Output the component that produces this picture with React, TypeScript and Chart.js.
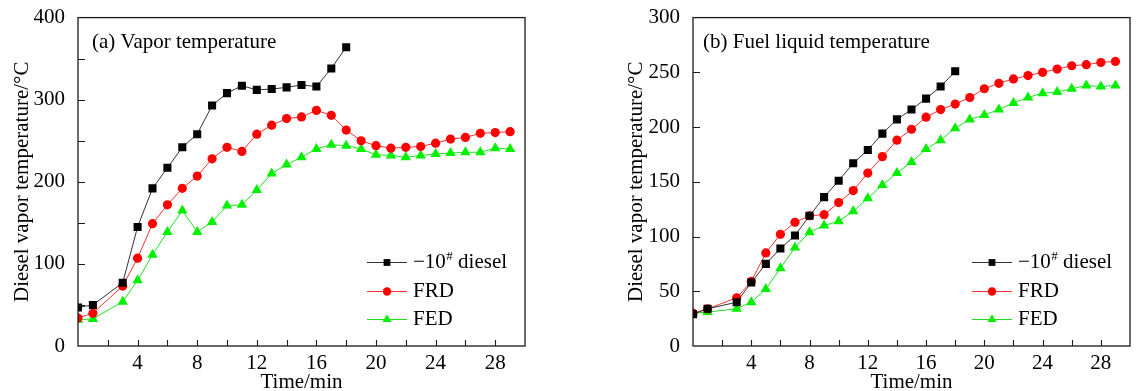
import React, { useEffect, useRef } from 'react';
import { Chart, registerables } from 'chart.js';

Chart.register(...registerables);

// ---- data ----
const timeMin = [0, 1, 3, 4, 5, 6, 7, 8, 9, 10, 11, 12, 13, 14, 15, 16, 17, 18, 19, 20, 21, 22, 23, 24, 25, 26, 27, 28, 29];

const seriesNames = ['\u221210# diesel', 'FRD', 'FED'];

// (a) Vapor temperature
const vaporDiesel = [47, 50, 77, 145, 192, 217, 242, 258, 293, 308, 317, 312, 313, 315, 318, 316, 338, 364];
const vaporFRD = [34, 40, 73, 107, 149, 172, 192, 207, 228, 242, 237, 258, 269, 277, 279, 287, 281, 263, 250, 244, 241, 242, 243, 247, 252, 254, 259, 260, 261];
const vaporFED = [32, 33, 54, 80, 111, 139, 165, 139, 151, 171, 172, 190, 210, 221, 230, 240, 245, 244, 240, 233, 232, 230, 232, 234, 235, 236, 236, 241, 240];

// (b) Fuel liquid temperature
const liquidDiesel = [29, 34, 40, 58, 75, 89, 101, 119, 136, 151, 167, 179, 194, 207, 216, 226, 237, 251];
const liquidFRD = [30, 34, 44, 59, 85, 102, 113, 119, 120, 131, 142, 158, 173, 188, 198, 209, 216, 221, 227, 235, 240, 244, 247, 250, 253, 256, 257, 259, 260];
const liquidFED = [30, 31, 34, 40, 52, 71, 90, 104, 110, 114, 123, 135, 147, 158, 168, 180, 188, 199, 207, 211, 216, 222, 227, 231, 232, 235, 238, 237, 238];

const xTickLabels = [4, 8, 12, 16, 20, 24, 28];

const FONT = '"Liberation Serif", "Times New Roman", serif';
const COLORS = ['#000000', '#ff0000', '#00f000'];
const LINE_COLORS = ['#333333', '#ff3030', '#20e020'];
const STYLES = ['rect', 'circle', 'triangle'];
const RADII = [5.7, 4.6, 6];

function toPoints(vals: number[]) {
  return vals.map((v, i) => ({ x: timeMin[i], y: v }));
}

function drawMarker(ctx: CanvasRenderingContext2D, style: string, x: number, y: number, r: number) {
  ctx.beginPath();
  if (style === 'rect') {
    const s = Math.SQRT1_2 * r;
    ctx.rect(x - s, y - s, 2 * s, 2 * s);
  } else if (style === 'circle') {
    ctx.arc(x, y, r, 0, Math.PI * 2);
  } else {
    let rad = 0;
    ctx.moveTo(x + Math.sin(rad) * r, y - Math.cos(rad) * r);
    rad += (2 * Math.PI) / 3;
    ctx.lineTo(x + Math.sin(rad) * r, y - Math.cos(rad) * r);
    rad += (2 * Math.PI) / 3;
    ctx.lineTo(x + Math.sin(rad) * r, y - Math.cos(rad) * r);
    ctx.closePath();
  }
  ctx.fill();
}

const framePlugin = {
  id: 'frameTicks',
  afterDraw(chart: any, _args: any, opts: any) {
    const { ctx, chartArea } = chart;
    const { left, right, top, bottom } = chartArea;
    const xs = chart.scales.x;
    const ys = chart.scales.y;
    ctx.save();
    ctx.strokeStyle = '#1a1a1a';
    ctx.lineWidth = 1.3;
    ctx.strokeRect(left, top, right - left, bottom - top);
    ctx.lineWidth = 1.1;
    ctx.beginPath();
    xs.ticks.forEach((t: any) => {
      const px = Math.round(xs.getPixelForValue(t.value)) + 0.5;
      if (px <= left + 2 || px >= right - 2) return;
      ctx.moveTo(px, bottom);
      ctx.lineTo(px, bottom - 6);
    });
    ys.ticks.forEach((t: any) => {
      const py = Math.round(ys.getPixelForValue(t.value)) + 0.5;
      if (py <= top + 2 || py >= bottom - 2) return;
      ctx.moveTo(left, py);
      ctx.lineTo(left + 7, py);
    });
    ctx.stroke();

    // panel title
    ctx.fillStyle = '#000';
    ctx.font = '21px ' + FONT;
    ctx.textBaseline = 'middle';
    ctx.textAlign = 'left';
    ctx.fillText(opts.title, left + opts.titleDx, top + 25);

    // legend
    chart.data.datasets.forEach((ds: any, i: number) => {
      const ry = Math.round(bottom - 84 + i * 28.5) + 0.5;
      const lx = right - 158;
      ctx.strokeStyle = ds.borderColor;
      ctx.lineWidth = 1;
      ctx.beginPath();
      ctx.moveTo(lx, ry);
      ctx.lineTo(lx + 40, ry);
      ctx.stroke();
      ctx.fillStyle = ds.pointBackgroundColor;
      const lr = i === 0 ? 4.8 : i === 1 ? 4.2 : 5.2;
      drawMarker(ctx, ds.pointStyle, lx + 20, ry, lr);
      ctx.fillStyle = '#000';
      let tx = lx + 46;
      const parts = String(ds.label).split('#');
      ctx.font = '21px ' + FONT;
      ctx.fillText(parts[0], tx, ry);
      tx += ctx.measureText(parts[0]).width;
      if (parts.length > 1) {
        ctx.font = '13px ' + FONT;
        ctx.fillText('#', tx + 0.5, ry - 6);
        tx += ctx.measureText('#').width + 0.5;
        ctx.font = '21px ' + FONT;
        ctx.fillText(parts[1], tx, ry);
      }
    });
    ctx.restore();
  },
};

type PanelProps = {
  left: number;
  width: number;
  yAxisWidth: number;
  padRight: number;
  yMax: number;
  yLabelStep: number;
  title: string;
  titleDx: number;
  series: number[][];
};

function Panel(p: PanelProps) {
  const ref = useRef<HTMLCanvasElement | null>(null);
  useEffect(() => {
    if (!ref.current) return;
    const font = { family: FONT, size: 21 };
    const chart = new Chart(ref.current, {
      type: 'line',
      data: {
        datasets: p.series.map((vals, i) => ({
          label: seriesNames[i],
          data: toPoints(vals),
          borderColor: LINE_COLORS[i],
          backgroundColor: COLORS[i],
          borderWidth: 1,
          pointStyle: STYLES[i] as any,
          pointRadius: RADII[i],
          pointBorderWidth: 0,
          pointBackgroundColor: COLORS[i],
          tension: 0,
        })),
      },
      options: {
        animation: false,
        responsive: false,
        maintainAspectRatio: false,
        layout: { padding: { top: 15, right: p.padRight, left: 0, bottom: 0 } },
        plugins: {
          legend: { display: false },
          tooltip: { enabled: false },
          frameTicks: { title: p.title, titleDx: p.titleDx },
        } as any,
        scales: {
          x: {
            type: 'linear',
            min: 0,
            max: 30,
            afterFit: (s: any) => {
              s.height = 45;
            },
            grid: { display: false },
            border: { display: false },
            ticks: {
              stepSize: 2,
              autoSkip: false,
              maxRotation: 0,
              padding: -3,
              color: '#000',
              font,
              callback: (v: any) => (xTickLabels.includes(Number(v)) ? String(v) : ''),
            },
            title: {
              display: true,
              text: 'Time/min',
              color: '#000',
              font: { family: FONT, size: 21, lineHeight: 0.8 },
              padding: 0,
            },
          },
          y: {
            type: 'linear',
            min: 0,
            max: p.yMax,
            afterFit: (s: any) => {
              s.width = p.yAxisWidth;
            },
            grid: { display: false },
            border: { display: false },
            ticks: {
              stepSize: 50,
              padding: 5,
              color: '#000',
              font,
              callback: (v: any) => (Number(v) % p.yLabelStep === 0 ? String(v) : ''),
            },
            title: {
              display: true,
              text: 'Diesel vapor temperature/\u00b0C',
              color: '#000',
              font,
              padding: { top: 10, bottom: 0 },
            },
          },
        },
      },
      plugins: [framePlugin],
    });
    return () => chart.destroy();
  }, []);
  return (
    <canvas
      ref={ref}
      width={p.width}
      height={391}
      style={{ position: 'absolute', left: p.left, top: 0, width: p.width, height: 391 }}
    />
  );
}

export default function App() {
  return (
    <div style={{ position: 'absolute', left: 0, top: 0, width: 1136, height: 391, background: '#fff', overflow: 'hidden' }}>
      <Panel
        left={0}
        width={560}
        yAxisWidth={78}
        padRight={35}
        yMax={400}
        yLabelStep={100}
        title="(a) Vapor temperature"
        titleDx={14}
        series={[vaporDiesel, vaporFRD, vaporFED]}
      />
      <Panel
        left={614}
        width={522}
        yAxisWidth={79}
        padRight={3}
        yMax={300}
        yLabelStep={50}
        title="(b) Fuel liquid temperature"
        titleDx={10}
        series={[liquidDiesel, liquidFRD, liquidFED]}
      />
    </div>
  );
}
